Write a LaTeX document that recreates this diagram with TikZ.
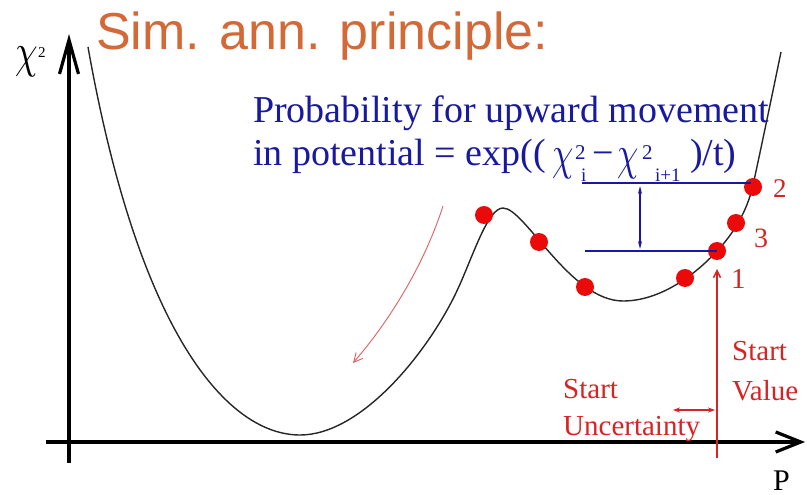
\documentclass[tikz,border=0pt]{standalone}
\usepackage{fontspec}
\usepackage{graphicx}
\setmainfont{Liberation Serif}
\newfontfamily\titlefont{Liberation Sans}
\usetikzlibrary{arrows.meta}
\definecolor{ttlorange}{RGB}{210,105,55}
\definecolor{txtblue}{RGB}{25,25,160}
\definecolor{dotred}{RGB}{235,10,10}
\definecolor{txtred}{RGB}{215,35,35}
\definecolor{lightred}{RGB}{225,95,95}
\newcommand{\bigchi}{\scalebox{3.4}[4.8]{$\chi$}}
\newcommand{\axchi}{\scalebox{3.6}[4.8]{$\chi$}}
\tikzset{
  lbl/.style={inner sep=0pt, anchor=base west},
  dotnode/.style={circle, fill=dotred, inner sep=0pt, minimum size=18pt},
  bluetxt/.style={lbl, text=txtblue, font=\fontsize{38}{40}\selectfont},
  bluesmall/.style={lbl, text=txtblue, font=\fontsize{19}{20}\selectfont},
  bluesup/.style={lbl, text=txtblue, font=\fontsize{21}{22}\selectfont},
  redtxt/.style={lbl, text=txtred, font=\fontsize{29}{30}\selectfont},
  bluelink/.style={draw=txtblue, line width=1.4pt},
}
\begin{document}
\begin{tikzpicture}[x=1pt,y=-1pt]
\useasboundingbox (0,0) rectangle (807,495);
% axes
\coordinate (yb) at (69,463);
\coordinate (yt) at (69,34);
\coordinate (xl) at (46,442);
\coordinate (xr) at (805,442);
\draw[line width=4pt, -{Straight Barb[length=34pt,width=19pt,line width=3.2pt]}] (yb) -- (yt);
\draw[line width=4pt, -{Straight Barb[length=25pt,width=20pt,line width=3.2pt]}] (xl) -- (xr);
\node[lbl] (chi) at (15,68) {\axchi};
\node[lbl, font=\fontsize{15}{16}\selectfont] (chisup) at (38,58) {2};
\node[lbl, font=\fontsize{30}{32}\selectfont] (plbl) at (773,490) {P};
% title
\node[lbl, text=ttlorange, font=\titlefont\fontsize{52}{54}\selectfont] (title) at (96,50) {Sim. ann. principle:};
% potential curve
\coordinate (cA) at (88,47);
\coordinate (cB) at (300,435);
\coordinate (cM) at (455,295);
\coordinate (cC) at (503,208);
\coordinate (cD) at (623,301);
\coordinate (cP) at (717,251);
\coordinate (cQ) at (753,185);
\coordinate (cE) at (781,52);
\draw[line width=1.4pt, black!85]
  (cA) .. controls (140,340) and (230,435) .. (cB)
       .. controls (360,435) and (425,356) .. (cM)
       .. controls (472,260) and (487,208) .. (cC)
       .. controls (525,208) and (570,301) .. (cD)
       .. controls (660,301) and (695,275) .. (cP)
       .. controls (733,234) and (747,212) .. (cQ)
       .. controls (759,158) and (774,86) .. (cE);
% red descent arrow
\coordinate (rs) at (443,206);
\coordinate (re) at (353,363);
\draw[lightred, line width=0.9pt, -{Straight Barb[length=9pt,width=9pt]}]
  (rs) .. controls (425,262) and (392,318) .. (re);
% blue text
\node[bluetxt] (t1) at (253,123) {Probability for upward movement};
\node[bluetxt] (t2) at (253,165) {in potential = exp((};
\node[lbl, text=txtblue] (c1) at (552,169) {\bigchi};
\node[bluesup] (c1s) at (575,160) {2};
\node[bluesmall] (c1i) at (581,182) {i};
\node[bluetxt] (mn) at (592,165) {−};
\node[lbl, text=txtblue] (c2) at (617,169) {\bigchi};
\node[bluesup] (c2s) at (642,160) {2};
\node[bluesmall] (c2i) at (655,182) {i+1};
\node[bluetxt] (t3) at (690,165) {)/t)};
% dots
\node[dotnode] (p1) at (717,251) {};
\node[dotnode] (p2) at (753,187) {};
\node[dotnode] (p3) at (736,223) {};
\node[dotnode] (q1) at (484,215) {};
\node[dotnode] (q2) at (539,242) {};
\node[dotnode] (q3) at (585,287) {};
\node[dotnode] (q4) at (685,278) {};
\node[lbl, text=txtred, font=\fontsize{27}{28}\selectfont] (n2) at (773,197) {2};
\node[lbl, text=txtred, font=\fontsize{28}{28}\selectfont] (n3) at (754,247) {3};
\node[lbl, text=txtred, font=\fontsize{29}{30}\selectfont] (n1) at (731,288) {1};
% blue levels
\coordinate (ul) at (582,183);
\coordinate (ur) at (751,183);
\coordinate (ll) at (585,251);
\draw[bluelink] (ul) -- (ur);
\draw[bluelink] (ll) -- (p1.center);
\coordinate (va) at (640,186);
\coordinate (vb) at (640,249);
\draw[draw=txtblue, line width=1.2pt, {Stealth[length=8pt,width=4pt]}-{Stealth[length=8pt,width=4pt]}] (va) -- (vb);
% start value
\coordinate (sb) at (717,458);
\coordinate (st) at (717,269);
\draw[txtred, line width=1.5pt, -{Straight Barb[length=7pt,width=7pt]}] (sb) -- (st);
\node[redtxt] (sv1) at (732,360) {Start};
\node[redtxt] (sv2) at (732,400) {Value};
\node[redtxt] (su1) at (563,398) {Start};
\node[redtxt] (su2) at (563,435) {Uncertainty};
\coordinate (ua) at (673,410);
\coordinate (ub) at (715,410);
\draw[txtred, line width=1.1pt, {Stealth[length=7pt,width=5pt]}-{Stealth[length=7pt,width=5pt]}] (ua) -- (ub);
\end{tikzpicture}
\end{document}
